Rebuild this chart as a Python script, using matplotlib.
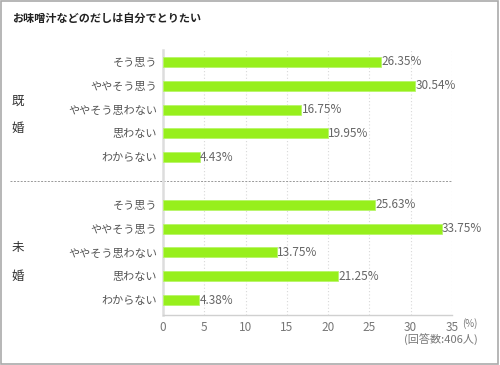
import matplotlib.pyplot as plt
from matplotlib.patches import Rectangle
import matplotlib.transforms as mtransforms

plt.rcParams['font.family'] = ['Noto Sans CJK JP', 'DejaVu Sans']

# data
answers = ['そう思う', 'ややそう思う', 'ややそう思わない', '思わない', 'わからない']
married = [26.35, 30.54, 16.75, 19.95, 4.43]
single = [25.63, 33.75, 13.75, 21.25, 4.38]
groups = ['既', '婚', '未', '婚']
x_ticks = [0, 5, 10, 15, 20, 25, 30, 35]

bar_color = '#97ef1c'
text_color = '#555555'

fig = plt.figure(figsize=(5, 3.65), dpi=100)
ax = fig.add_axes([163 / 500, 1 - 315 / 365, 289 / 500, 265 / 365])

pos1 = list(range(5))
pos2 = [p + 6 for p in range(5)]

for pos, vals in [(pos1, married), (pos2, single)]:
    ax.barh(pos, vals, height=0.42, color=bar_color, edgecolor='#b8f56a',
            linewidth=0.6, zorder=3)
    for p, v in zip(pos, vals):
        ax.text(v + 0.05, p, f'{v:.2f}%', va='center', ha='left',
                fontsize=8.5, color='#666666', zorder=4)

ax.set_xlim(0, 35)
ax.set_ylim(10.625, -0.5)
ax.set_xticks(x_ticks)
ax.set_xticklabels([str(t) for t in x_ticks], fontsize=8.5, color='#777777')
ax.set_yticks(pos1 + pos2)
ax.set_yticklabels(answers + answers, fontsize=8, color=text_color)
ax.tick_params(length=0, pad=4)
ax.tick_params(axis='x', pad=4)

for t in x_ticks[1:]:
    ax.axvline(t, color='#d8d8d8', linestyle=(0, (1, 2)), linewidth=0.8, zorder=1)

for s in ['top', 'right']:
    ax.spines[s].set_visible(False)
ax.spines['left'].set_color('#dddddd')
ax.spines['left'].set_linewidth(1.8)
ax.spines['bottom'].set_color('#d0d0d0')
ax.spines['bottom'].set_linewidth(1.0)

# separator between groups
trans = mtransforms.blended_transform_factory(ax.transAxes, ax.transData)
ax.plot([(10 - 163) / 289, 1.0], [5, 5], transform=trans, clip_on=False,
        color='#999999', linestyle=(0, (2, 1.5)), linewidth=0.7)

# group labels (one character per line)
for label, ypix in zip(groups, [101, 128, 247, 276]):
    fig.text(18 / 500, 1 - ypix / 365, label, ha='center', va='center',
             fontsize=9, color='#333333')

fig.text(12 / 500, 1 - 18 / 365, 'お味噌汁などのだしは自分でとりたい',
         fontsize=8, fontweight='bold', color='#222222', va='center', ha='left')
fig.text(470 / 500, 1 - 324 / 365, '(%)', fontsize=7, color='#777777',
         va='center', ha='center')
fig.text(478 / 500, 1 - 340 / 365, '(回答数:406人)', fontsize=8,
         color='#777777', va='center', ha='right')

fig.patches.append(Rectangle((0.002, 0.003), 0.994, 0.994, transform=fig.transFigure,
                             fill=False, edgecolor='#aaaaaa', linewidth=1.2))

fig.savefig('out.png', dpi=100, facecolor='white')
